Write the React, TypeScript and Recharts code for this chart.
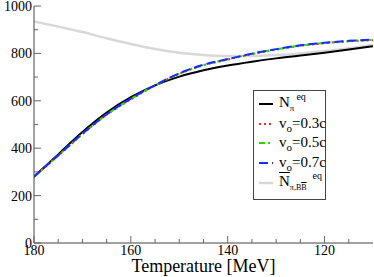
import React from "react";
import { LineChart, Line, XAxis, YAxis, Legend } from "recharts";

const temps = [180, 175, 170, 165, 160, 155, 150, 145, 140, 135, 130, 125, 120, 115, 110];
const nPiEq = [280, 374, 468, 550, 615, 665, 702, 729, 749, 765, 779, 791, 803, 816, 830];
const v03 = [280, 368, 459, 541, 606, 664, 714, 750, 774, 797, 816, 832, 843, 851, 856];
const v05 = [280, 369, 460, 542, 608, 665, 715, 751, 775, 798, 817, 833, 844, 852, 857];
const v07 = [280, 370, 461, 543, 609, 666, 716, 752, 776, 799, 818, 834, 845, 853, 858];
const nBarEq = [935, 913, 890, 864, 840, 819, 803, 793, 789, 789, 793, 800, 810, 822, 836];

const xTicks = [180, 175, 170, 165, 160, 155, 150, 145, 140, 135, 130, 125, 120, 115];
const xLabeled = [180, 160, 140, 120];
const yTicks = [0, 100, 200, 300, 400, 500, 600, 700, 800, 900, 1000];
const yLabeled = [0, 200, 400, 600, 800, 1000];

const data = temps.map((t, i) => ({
  T: t,
  nEq: nPiEq[i],
  v03: v03[i],
  v05: v05[i],
  v07: v07[i],
  nBar: nBarEq[i],
}));

const FONT = "'Liberation Serif', 'DejaVu Serif', serif";
const FRAME = "#444";
const TICK = "#666";

const LeftTick = (props: any) => {
  const { x, y, payload } = props;
  const major = yLabeled.includes(payload.value);
  return (
    <g>
      <line x1={x} x2={x + (major ? 7 : 4)} y1={y} y2={y} stroke={TICK} />
      {major && (
        <text x={x - 2} y={y + 5} textAnchor="end" fontSize={14} fontFamily={FONT} fill="#000">
          {payload.value}
        </text>
      )}
    </g>
  );
};

const RightTick = (props: any) => {
  const { x, y, payload } = props;
  const major = yLabeled.includes(payload.value);
  return <line x1={x} x2={x - (major ? 7 : 4)} y1={y} y2={y} stroke={TICK} />;
};

const BottomTick = (props: any) => {
  const { x, y, payload } = props;
  const major = xLabeled.includes(payload.value);
  return (
    <g>
      <line x1={x} x2={x} y1={y} y2={y - (major ? 7 : 4)} stroke={TICK} />
      {major && (
        <text x={x} y={y + 12} textAnchor="middle" fontSize={14} fontFamily={FONT} fill="#000">
          {payload.value}
        </text>
      )}
    </g>
  );
};

const TopTick = (props: any) => {
  const { x, y, payload } = props;
  const major = xLabeled.includes(payload.value);
  return <line x1={x} x2={x} y1={y} y2={y + (major ? 7 : 4)} stroke={TICK} />;
};

const sub = (fs: number): React.CSSProperties => ({ fontSize: fs, position: "relative", top: 4 });
const sup = (fs: number): React.CSSProperties => ({ fontSize: fs, position: "relative", top: -7, marginLeft: 2 });

const legendRows = [
  {
    dash: undefined,
    color: "#000",
    width: 2,
    label: (
      <>
        N<span style={sub(9)}>π</span>
        <span style={sup(10)}>eq</span>
      </>
    ),
  },
  { dash: "2 3", color: "#ff2020", width: 2, label: (<>v<span style={sub(11)}>o</span>=0.3c</>) },
  { dash: "6 3 2 3", color: "#22dd00", width: 2, label: (<>v<span style={sub(11)}>o</span>=0.5c</>) },
  { dash: "9 4", color: "#1a2bff", width: 2, label: (<>v<span style={sub(11)}>o</span>=0.7c</>) },
  {
    dash: undefined,
    color: "#d8d8d8",
    width: 2.5,
    label: (
      <>
        <span style={{ textDecoration: "overline" }}>N</span>
        <span style={sub(8)}>
          π,B<span style={{ textDecoration: "overline" }}>B</span>
        </span>
        <span style={{ ...sup(10), marginLeft: 6 }}>eq</span>
      </>
    ),
  },
];

const LegendBox = () => (
  <div
    style={{
      width: 71,
      height: 105,
      border: `1px solid ${FRAME}`,
      background: "#fff",
      fontFamily: FONT,
      fontSize: 15,
      color: "#000",
      paddingTop: 3,
      boxSizing: "content-box",
    }}
  >
    {legendRows.map((r, i) => (
      <div key={i} style={{ display: "flex", alignItems: "center", height: 19.7, whiteSpace: "nowrap" }}>
        <svg width={25} height={10} style={{ flex: "none" }}>
          <line x1={5} x2={19} y1={5} y2={5} stroke={r.color} strokeWidth={r.width} strokeDasharray={r.dash} />
        </svg>
        <span style={{ lineHeight: "15px" }}>{r.label}</span>
      </div>
    ))}
  </div>
);

export default function App() {
  return (
    <div style={{ position: "absolute", left: 0, top: 0, width: 374, height: 277, background: "#fff" }}>
      <LineChart
        width={374}
        height={277}
        data={data}
        margin={{ top: 6, right: 1, left: 0, bottom: 0 }}
        style={{ fontFamily: FONT }}
      >
        <XAxis
          dataKey="T"
          type="number"
          domain={[110, 180]}
          reversed
          ticks={xTicks}
          interval={0}
          height={34}
          tickSize={0}
          tickMargin={0}
          tickLine={false}
          axisLine={{ stroke: FRAME }}
          tick={<BottomTick />}
          allowDataOverflow
          label={{ value: "Temperature [MeV]", position: "insideBottom", offset: 5, fontSize: 18, fontFamily: FONT, fill: "#000" }}
        />
        <XAxis
          xAxisId="top"
          orientation="top"
          dataKey="T"
          type="number"
          domain={[110, 180]}
          reversed
          ticks={xTicks}
          interval={0}
          height={0}
          tickSize={0}
          tickMargin={0}
          tickLine={false}
          axisLine={{ stroke: FRAME }}
          tick={<TopTick />}
          allowDataOverflow
        />
        <YAxis
          type="number"
          domain={[0, 1000]}
          ticks={yTicks}
          interval={0}
          width={34}
          tickSize={0}
          tickMargin={0}
          tickLine={false}
          axisLine={{ stroke: FRAME }}
          tick={<LeftTick />}
          allowDataOverflow
        />
        <YAxis
          yAxisId="right"
          orientation="right"
          type="number"
          domain={[0, 1000]}
          ticks={yTicks}
          interval={0}
          width={0}
          tickSize={0}
          tickMargin={0}
          tickLine={false}
          axisLine={{ stroke: FRAME }}
          tick={<RightTick />}
          allowDataOverflow
        />
        <Line dataKey="nBar" type="monotone" stroke="#d8d8d8" strokeWidth={2.5} dot={false} isAnimationActive={false} />
        <Line dataKey="nEq" type="monotone" stroke="#000" strokeWidth={2} dot={false} isAnimationActive={false} />
        <Line dataKey="v03" type="monotone" stroke="#ff2020" strokeWidth={2} strokeDasharray="2 3" dot={false} isAnimationActive={false} />
        <Line dataKey="v05" type="monotone" stroke="#22dd00" strokeWidth={2} strokeDasharray="6 3 2 3" dot={false} isAnimationActive={false} />
        <Line dataKey="v07" type="monotone" stroke="#1a2bff" strokeWidth={2} strokeDasharray="9 4" dot={false} isAnimationActive={false} />
        <Legend
          layout="vertical"
          align="center"
          verticalAlign="middle"
          content={<LegendBox />}
          wrapperStyle={{ left: 253, top: 90, width: 73, height: 109 }}
        />
      </LineChart>
    </div>
  );
}
